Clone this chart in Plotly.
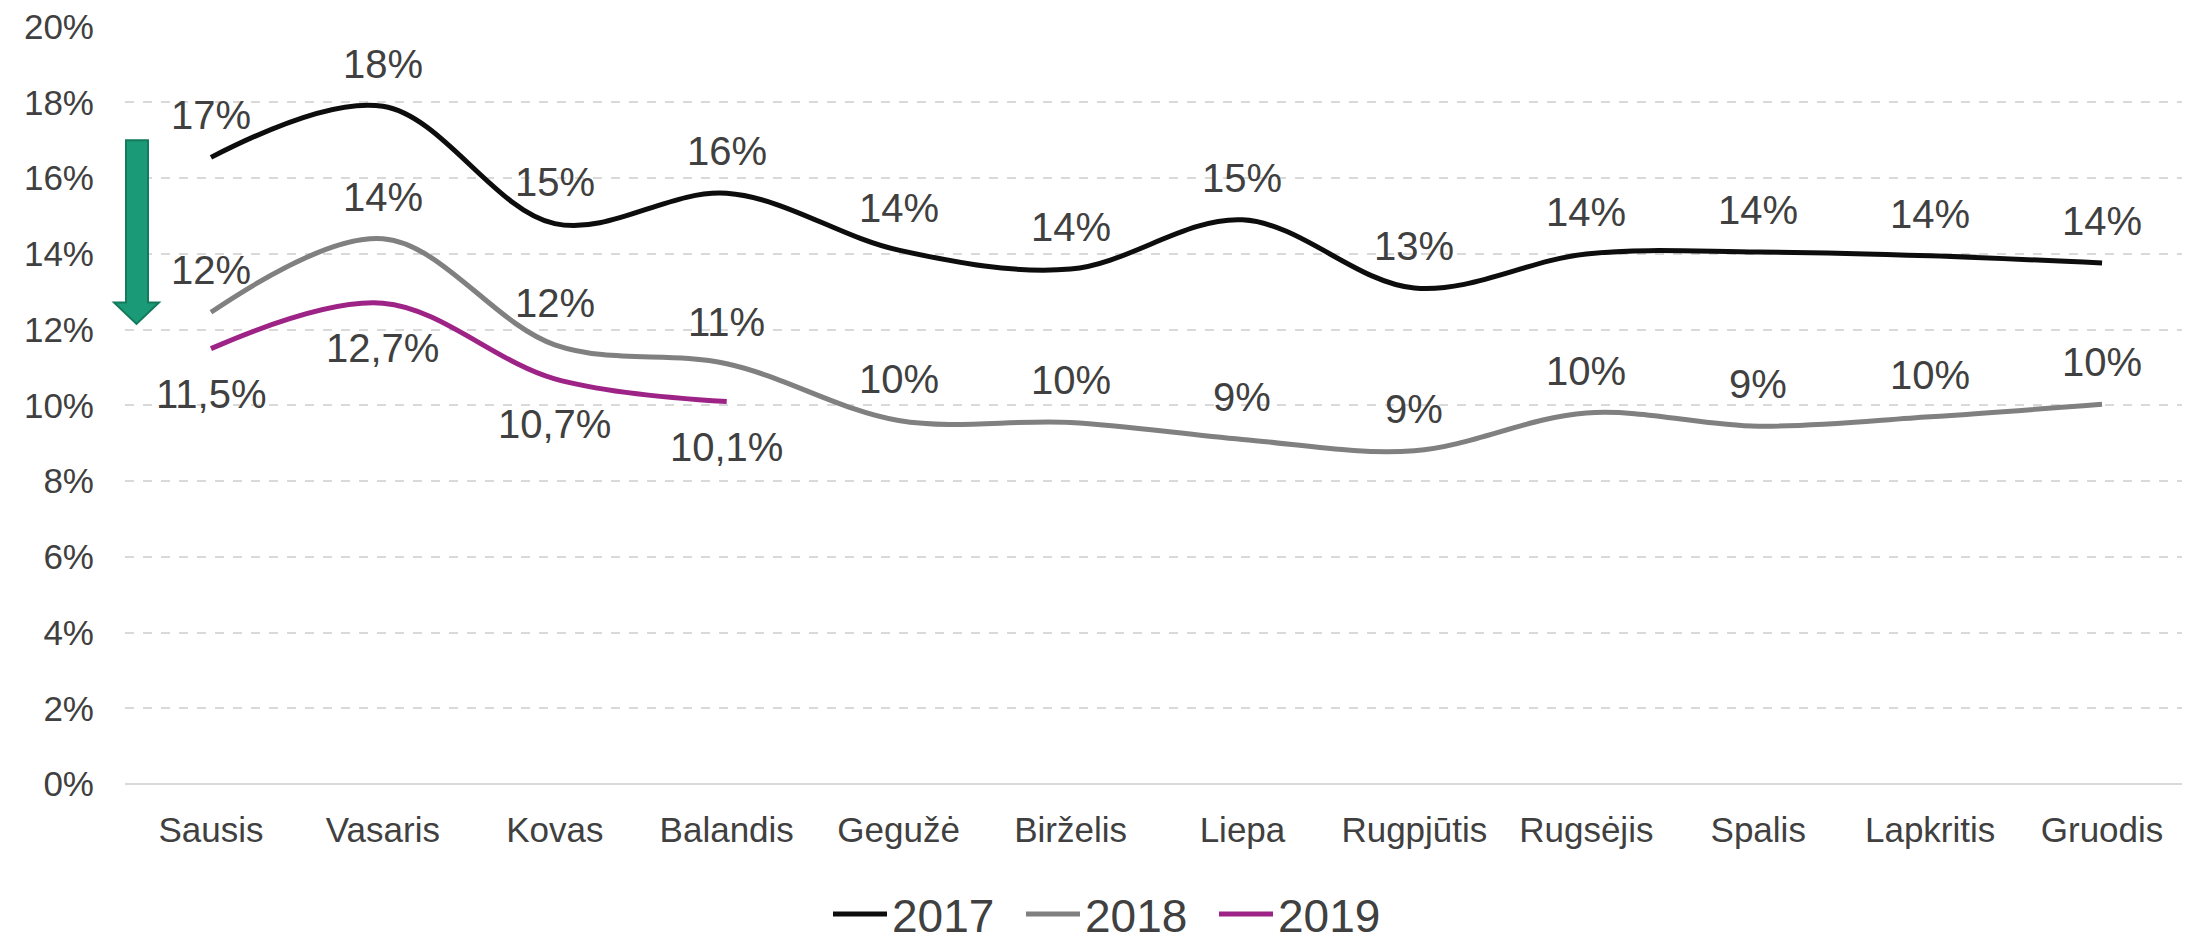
import plotly.graph_objects as go

months = ["Sausis", "Vasaris", "Kovas", "Balandis", "Gegužė", "Birželis",
          "Liepa", "Rugpjūtis", "Rugsėjis", "Spalis", "Lapkritis", "Gruodis"]
y2017 = [16.55, 17.9, 14.8, 15.6, 14.1, 13.6, 14.9, 13.1, 14.0, 14.05, 13.95, 13.76]
y2018 = [12.46, 14.4, 11.6, 11.1, 9.6, 9.55, 9.1, 8.8, 9.8, 9.45, 9.7, 10.03]
y2019 = [11.5, 12.7, 10.7, 10.1]

# page has an 8px body margin, so the figure is drawn a bit smaller
OFF = 8
W, H = 2190 - OFF, 945 - OFF
ML, MR, MT, MB = 125 - OFF, 2, 26 - OFF, 161
txt = "#404040"
font = "Liberation Sans, Arial, sans-serif"

fig = go.Figure()
series = [("2017", y2017, "#0d0d0d"), ("2018", y2018, "#808080"), ("2019", y2019, "#9e2387")]
for name, vals, col in series:
    fig.add_trace(go.Scatter(x=months[:len(vals)], y=vals, name=name, mode="lines",
                             line=dict(color=col, width=5, shape="spline", smoothing=1.0)))

# data labels
ann = []
for v, m in zip(y2017, months):
    ann.append(dict(x=m, y=v, text=f"{v:.0f}%", yshift=42))
for v, m in zip(y2018, months):
    ann.append(dict(x=m, y=v, text=f"{v:.0f}%", yshift=42))
for v, m in zip(y2019, months):
    ann.append(dict(x=m, y=v, text=f"{v:.1f}".replace(".", ",") + "%", yshift=-45))
for a in ann:
    a.update(showarrow=False, xanchor="center", yanchor="middle",
             font=dict(size=40, color=txt, family=font))
fig.update_layout(annotations=ann)

# green down arrow on the left (x given in page pixels)
pw = W - ML - MR
def px(p):
    return (p - OFF - ML) / pw
path = (f"M {px(126)},17 L {px(148)},17 L {px(148)},12.72 L {px(159)},12.72 "
        f"L {px(136.5)},12.15 L {px(114)},12.72 L {px(126)},12.72 Z")
fig.add_shape(type="path", path=path, xref="paper", yref="y",
              fillcolor="#1b9a78", line=dict(color="#147a5c", width=2))

fig.update_layout(
    width=W, height=H,
    margin=dict(l=ML, r=MR, t=MT, b=MB, autoexpand=False),
    plot_bgcolor="white", paper_bgcolor="white",
    font=dict(family=font, color=txt),
    showlegend=True,
    legend=dict(orientation="h", xref="container", yref="container",
                x=(828 - OFF) / W, xanchor="left", y=1 - (914 - OFF) / H, yanchor="middle",
                entrywidth=124, entrywidthmode="pixels", itemwidth=54,
                font=dict(size=46, color=txt), bgcolor="rgba(0,0,0,0)"),
    xaxis=dict(showgrid=False, showline=False, zeroline=False, ticks="",
               tickfont=dict(size=35, color=txt), ticklabelstandoff=22,
               range=[-0.5, 11.5], automargin=False),
    yaxis=dict(range=[0, 20.02], dtick=2, ticksuffix="%", showgrid=True,
               gridcolor="#d9d9d9", griddash="dash", gridwidth=2,
               zeroline=True, zerolinecolor="#d9d9d9", zerolinewidth=2,
               showline=False, ticks="", tickfont=dict(size=35, color=txt),
               ticklabelstandoff=30, ticklabeloverflow="allow", automargin=False),
)

fig.write_html("out.html")
